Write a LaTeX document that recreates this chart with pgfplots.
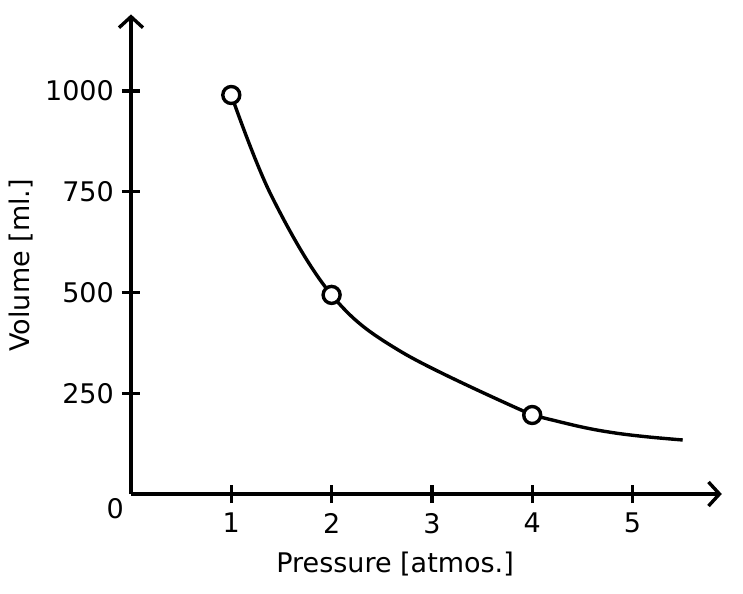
\documentclass[border=0pt]{standalone}
\usepackage{pgfplots}
\pgfplotsset{compat=1.18}
\usepackage{fontspec}
\setmainfont{DejaVu Sans}
\usetikzlibrary{arrows.meta}

\begin{document}
\begin{tikzpicture}
% fixed page frame around the axis origin
\path[use as bounding box] (-131bp,-100bp) rectangle (612bp,494bp);
\begin{axis}[
  anchor=origin, at={(0,0)},
  scale only axis,
  width=590.8bp, height=479.6bp,
  xmin=0, xmax=5.89, ymin=0, ymax=1190,
  axis lines=left,
  axis line style={line width=3.4bp, -{Straight Barb[length=11bp,width=24bp,line width=3.4bp]}},
  xtick={1,2,3,4,5},
  ytick={250,500,750,1000},
  tick align=center,
  major tick length=18bp,
  tick style={line width=3.4bp, black},
  font=\fontsize{27bp}{32bp}\selectfont,
  /pgf/number format/assume math mode=true,
  /pgf/number format/1000 sep={},
  xticklabel style={inner sep=0pt, yshift=-10bp},
  yticklabel style={inner sep=0pt, xshift=-8bp},
  xlabel={Pressure [atmos.]},
  ylabel={Volume [ml.]},
  xlabel style={at={(axis description cs:0.447,0)}, anchor=north, inner sep=0pt, yshift=-58bp},
  ylabel style={at={(axis description cs:0,0.477)}, anchor=center, inner sep=0pt, yshift=110bp},
  clip=false,
]
% fitted pressure-volume curve, in two pieces joined at the 4 atm reading
\addplot[line width=3.4bp, black, smooth, tension=0.6, no marks] coordinates {
  (1,990) (1.4,740) (2,494) (2.7,352) (4,196)
};
\addplot[line width=3.4bp, black, smooth, tension=0.6, no marks] coordinates {
  (4,196) (4.48,167) (4.81,152) (5.14,142) (5.5,134)
};
% measured values
\addplot[only marks, mark=*, mark size=8.5bp,
  mark options={fill=white, draw=black, line width=3.4bp}] coordinates {
  (1,990) (2,494) (4,196)
};
\node[anchor=north east, inner sep=0pt] at (axis cs:0,0) [xshift=-7bp, yshift=-4bp] {0};
\end{axis}
\end{tikzpicture}
\end{document}
